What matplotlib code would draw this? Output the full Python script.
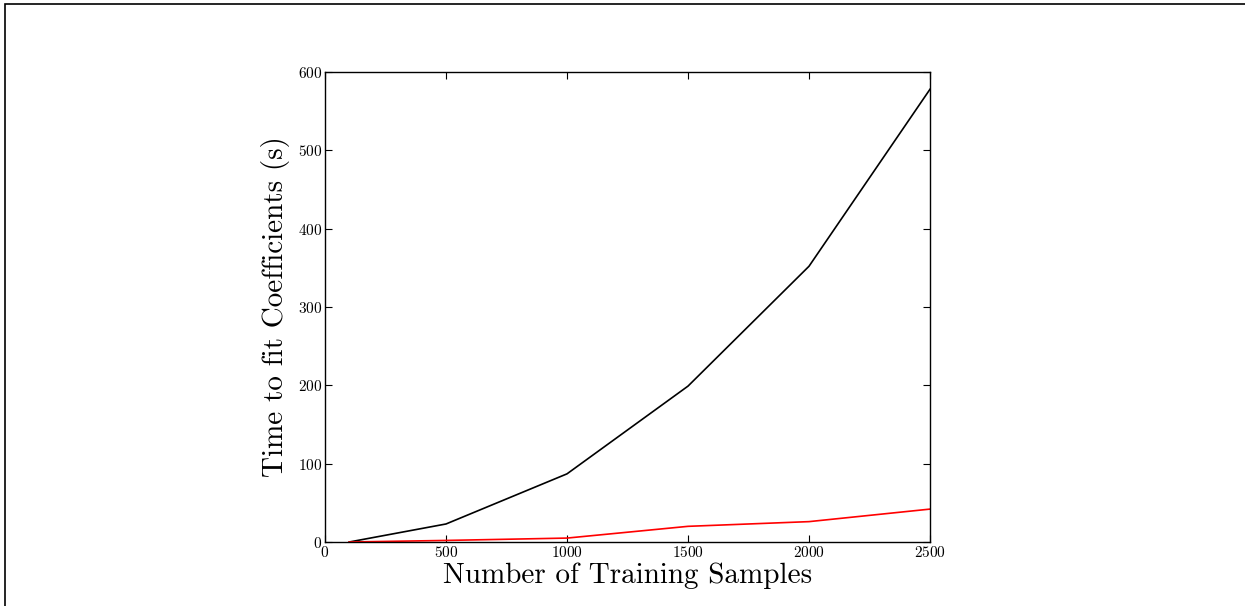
import matplotlib
matplotlib.use("Agg")
import matplotlib.pyplot as plt
from matplotlib.patches import Rectangle

plt.rcParams.update({
    "font.family": "serif",
    "font.serif": ["cmr10", "DejaVu Serif"],
    "mathtext.fontset": "cm",
    "axes.formatter.use_mathtext": True,
    "axes.unicode_minus": False,
})

# Training set sizes and timing results
n_samples = [100, 500, 1000, 1500, 2000, 2500]
time_full = [0, 23, 87, 199, 352, 578]
time_fast = [0, 2, 5, 20, 26, 42]
x_ticks = [0, 500, 1000, 1500, 2000, 2500]
y_ticks = [0, 100, 200, 300, 400, 500, 600]

W, H, DPI = 1245, 606, 100
fig = plt.figure(figsize=(W / DPI, H / DPI), dpi=DPI)

# axes box in pixels: left 325, right 930, top 72, bottom 542
ax = fig.add_axes([325 / W, 1 - 542 / H, (930 - 325) / W, (542 - 72) / H])

ax.plot(n_samples, time_full, color="black", lw=1.2)
ax.plot(n_samples, time_fast, color="red", lw=1.2)

ax.set_xlim(0, 2500)
ax.set_ylim(0, 600)
ax.set_xticks(x_ticks)
ax.set_yticks(y_ticks)
ax.tick_params(direction="in", top=True, right=True, length=5, width=0.8,
               labelsize=11, pad=2)
for s in ax.spines.values():
    s.set_linewidth(1.0)

ax.set_xlabel("Number of Training Samples", fontsize=21, labelpad=2)
ax.set_ylabel("Time to fit Coefficients (s)", fontsize=21, labelpad=6)

# outer frame around the figure
fig.add_artist(Rectangle((5 / W, -0.1), 1.2, 1.1 - 4 / H + 0.0,
                         transform=fig.transFigure, fill=False,
                         edgecolor="black", lw=1.2))

fig.savefig("out.png", dpi=DPI)
